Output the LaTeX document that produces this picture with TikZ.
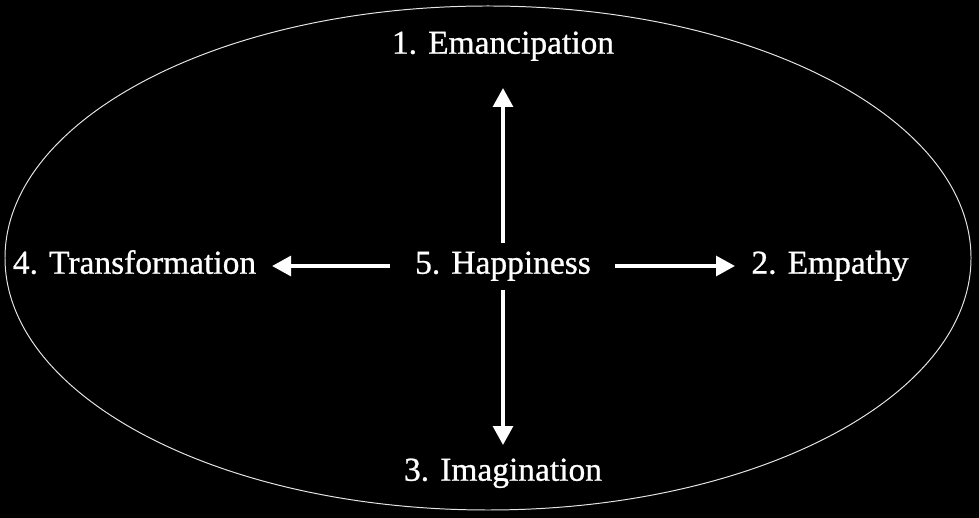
\documentclass[tikz,border=0pt]{standalone}
\usepackage{fontspec}
\setmainfont{Liberation Serif}
\newfontfamily\lblfont[FakeBold=0.8]{Liberation Serif}
\usetikzlibrary{arrows.meta}
\begin{document}
\begin{tikzpicture}[x=0.025cm, y=0.025cm,
    lbl/.style={text=white, font=\lblfont\fontsize{23.8}{28}\selectfont, inner sep=0pt, text height=16pt, text depth=5pt},
    pfeil/.style={white, line width=2.8pt, -{Triangle[length=13.5pt,width=14pt]}}]

        % background and frame
        \fill[black] (0,0) rectangle (979,518);
        \draw[white!80!gray, line width=0.7pt] (488,260) ellipse (483 and 252);

        \node[lbl] (hap) at (503,252) {5. Happiness};
        \node[lbl] (emn) at (503,472) {1. Emancipation};
        \node[lbl] (emp) at (830,252) {2. Empathy};
        \node[lbl] (img) at (503,45) {3. Imagination};
        \node[lbl] (trf) at (134.5,252) {4. Transformation};

        % arrows
        \draw[pfeil, shorten <=0.575cm, shorten >=1.05cm] (hap.center) -- (emn.center);
        \draw[pfeil, shorten <=2.8cm, shorten >=2.375cm] (hap.center) -- (emp.center);
        \draw[pfeil, shorten <=0.6cm, shorten >=0.7cm] (hap.center) -- (img.center);
        \draw[pfeil, shorten <=2.825cm, shorten >=3.4375cm] (hap.center) -- (trf.center);
    \end{tikzpicture}
\end{document}
